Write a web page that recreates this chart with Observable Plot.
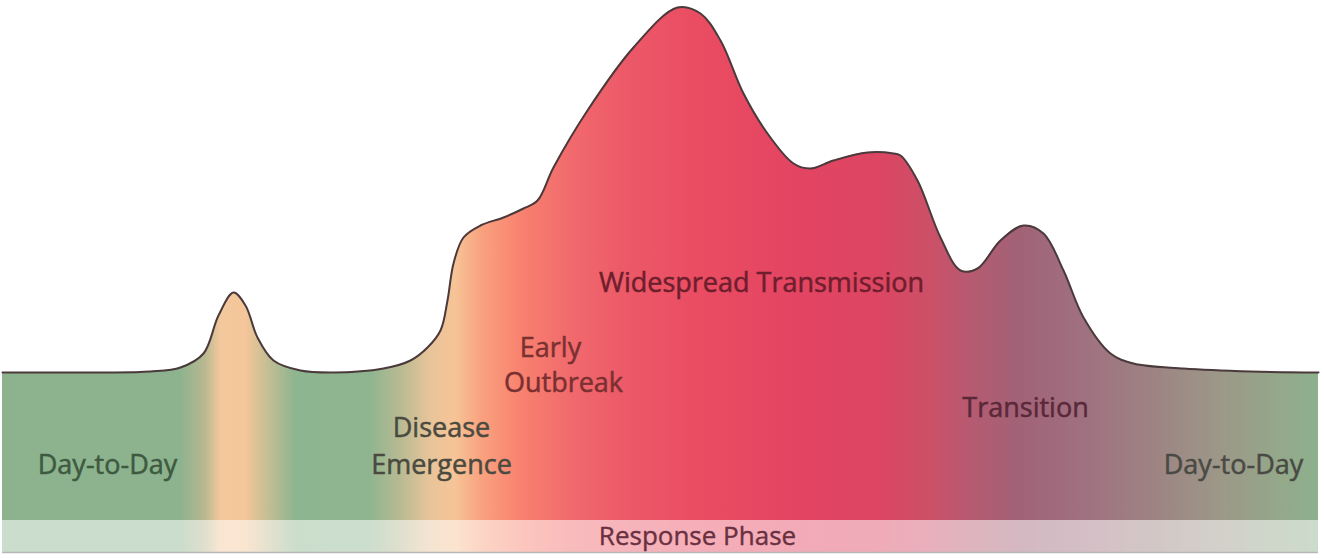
<!DOCTYPE html>
<html>
<head>
<meta charset="utf-8">
<script src="https://cdn.jsdelivr.net/npm/d3@7"></script>
<script src="https://cdn.jsdelivr.net/npm/@observablehq/plot@0.6"></script>
<style>
  html, body { margin: 0; padding: 0; background: #fff; }
  #chart svg { display: block; }
</style>
</head>
<body>
<div id="chart"></div>
<script>
// Timeline position (arbitrary time units) and outbreak intensity
const time = [0.2, 10, 15, 18, 20.3, 21.8, 23.3, 24.5, 25.7, 27.3, 30, 33.3, 38.3, 41, 42.7, 44, 44.7, 45.3, 46.3, 48, 50.3, 52.3, 53.7, 55.3, 58.7, 63.3, 67.7, 70, 72, 74.3, 76.7, 79.3, 81, 83.3, 86.7, 89.3, 90, 91.7, 94, 96, 97.7, 100, 102.3, 104.3, 106.3, 108.3, 111, 113.3, 118.3, 125, 131.8];
const intensity = [14.8, 14.8, 14.9, 15.3, 16.7, 20.5, 22.8, 21.5, 18.3, 16, 15, 14.8, 15.2, 16, 17.3, 19, 22, 25.7, 28.3, 29.5, 30.3, 31.2, 32, 35.3, 41, 47.3, 51.3, 50.7, 48, 42.7, 38.7, 35.7, 35.2, 36, 36.8, 36.7, 36.5, 34, 28.3, 25, 25.2, 28, 29.5, 28.7, 25, 20.3, 16.7, 15.7, 15.2, 14.9, 14.8];

// Phase colour band (time -> colour)
const stopTime = [0, 18, 20.5, 22, 24.5, 27, 29.5, 37, 40, 43, 45.5, 48, 52, 57, 63, 70, 80, 88, 93, 97, 102, 108, 115, 122, 128, 132.4];
const stopColor = ["#8cb38e", "#8cb38e", "#b9b891", "#f2c89c", "#f5c69a", "#c0bd94", "#8db58f", "#8fb590", "#b8ba92", "#e8c49a", "#f6c496", "#f9a380", "#f8826f", "#f16a6d", "#ec5868", "#ea4c62", "#e34462", "#dc4662", "#cc5068", "#b65a70", "#a16277", "#a07080", "#9e8282", "#9c9888", "#94a88a", "#8cb28e"];

// Phase labels
const labelText = ["Day-to-Day", "Disease", "Emergence", "Early", "Outbreak", "Widespread Transmission", "Transition", "Day-to-Day"];
const labelTime = [10.7, 44.1, 44.1, 55, 56.3, 76.1, 102.5, 123.3];
const labelLevel = [5.5, 9.2, 5.5, 17.2, 13.7, 23.7, 11.2, 5.5];
const labelColor = ["#3d5a40", "#4a4a40", "#4a4a40", "#7a3030", "#7a3030", "#6e1e2c", "#5a2838", "#4a4a44"];

const bandText = ["Response Phase"];
const bandTime = [69.7];
const bandLevel = [-1.6];
const bandStart = 0.2, bandEnd = 131.8, bandBottom = -3.2, domainEnd = 132.4;

const curve = time.map((t, i) => ({t, v: intensity[i]}));
const stops = stopTime.map((t, i) => ({t, color: stopColor[i]}));
const labels = labelText.map((text, i) => ({text, t: labelTime[i], v: labelLevel[i], color: labelColor[i]}));
const band = [{x1: bandStart, x2: bandEnd, y1: bandBottom, y2: 0}];
const bandLabels = bandText.map((text, i) => ({text, t: bandTime[i], v: bandLevel[i]}));

function gradientDefs(index, scales) {
  const defs = d3.create("svg:defs");
  const g = defs.append("linearGradient")
    .attr("id", "phaseGrad")
    .attr("gradientUnits", "userSpaceOnUse")
    .attr("x1", scales.x(0)).attr("x2", scales.x(domainEnd))
    .attr("y1", 0).attr("y2", 0);
  for (const s of stops) {
    g.append("stop").attr("offset", s.t / domainEnd).attr("stop-color", s.color);
  }
  return defs.node();
}

const font = "'Open Sans', 'Liberation Sans', sans-serif";

const chart = Plot.plot({
  width: 1324,
  height: 558,
  margin: 0,
  x: {domain: [0, domainEnd], axis: null},
  y: {domain: [-3.8, 52], axis: null},
  style: {background: "#fff"},
  marks: [
    gradientDefs,
    Plot.areaY(curve, {x: "t", y: "v", curve: "catmull-rom", fill: "url(#phaseGrad)"}),
    Plot.rect(band, {x1: "x1", x2: "x2", y1: "y1", y2: "y2", fill: "url(#phaseGrad)"}),
    Plot.rect(band, {x1: "x1", x2: "x2", y1: "y1", y2: "y2", fill: "#ffffff", fillOpacity: 0.55}),
    Plot.ruleY([bandBottom], {x1: bandStart, x2: bandEnd, stroke: "#b8b8b8", strokeWidth: 1.5}),
    Plot.lineY(curve, {x: "t", y: "v", curve: "catmull-rom", stroke: "#4a3a3c", strokeWidth: 2}),
    Plot.text(labels, {x: "t", y: "v", text: "text", fill: d => d.color, stroke: d => d.color, strokeWidth: 0.5, fontSize: 27, fontFamily: font, textAnchor: "middle", lineAnchor: "middle"}),
    Plot.text(bandLabels, {x: "t", y: "v", text: "text", fill: "#6a3040", stroke: "#6a3040", strokeWidth: 0.4, fontSize: 26, fontFamily: font, textAnchor: "middle", lineAnchor: "middle"})
  ]
});
document.getElementById("chart").append(chart);
</script>
</body>
</html>
